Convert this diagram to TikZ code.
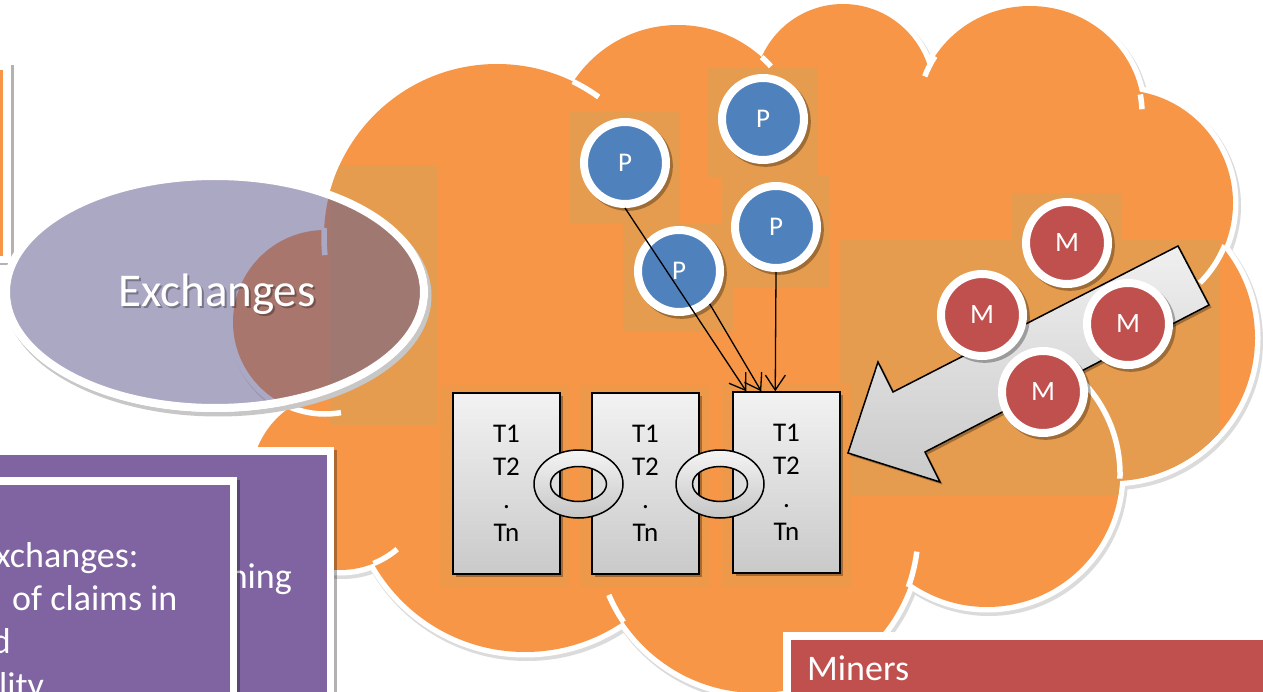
\documentclass[tikz,border=0pt]{standalone}
\usepackage{fontspec}
\setmainfont{Carlito}
\usetikzlibrary{arrows.meta,shadows,calc}

\definecolor{cloudorange}{HTML}{F79646}
\definecolor{patchorange}{HTML}{E59C4E}
\definecolor{blockpatch}{HTML}{EE9949}
\definecolor{exviolet}{RGB}{98,91,145}
\definecolor{boxpurple}{HTML}{8064A2}
\definecolor{peerblue}{HTML}{4F81BD}
\definecolor{minerred}{HTML}{C0504D}

% lobes of the cloud: centre x / centre y / radius
\def\cloudlobes{497/237/173, 678/150/125, 843/93/89, 1120/203/113, 1112/338/143,
  987/474/133, 757/532/161, 525/478/174, 340/481/89, 325/322/92}

\begin{document}
\begin{tikzpicture}[x=1pt, y=-1pt,
  softshadow/.style={drop shadow={shadow xshift=2.5pt, shadow yshift=-2.5pt, opacity=0.3, fill=black}},
  lobetick/.style={white, line width=5.5},
  blockbox/.style={draw=black, line width=1.5, top color=gray!10, bottom color=gray!42,
    minimum width=107, minimum height=181, inner sep=0, align=center,
    font=\fontsize{27}{33}\selectfont, softshadow},
  linkring/.style={draw=black, line width=1.5, even odd rule, top color=gray!8, bottom color=gray!45},
  peer/.style={circle, fill=peerblue, draw=white, line width=8, minimum size=82, inner sep=0,
    text=white, font=\fontsize{27}{27}\selectfont,
    drop shadow={shadow xshift=2.5pt, shadow yshift=-2.5pt, shadow scale=1.1, opacity=0.3, fill=black}},
  miner/.style={peer, fill=minerred, font=\fontsize{28}{28}\selectfont},
  txarrow/.style={-{Straight Barb[length=15pt, width=20pt, line width=1.3pt]}, line width=1.3},
  bigarrow/.style={draw=black, line width=1.5, top color=gray!12, bottom color=gray!42, softshadow},
  boxtext/.style={text=white, font=\fontsize{36}{43}\selectfont, inner sep=0}
]
\useasboundingbox (0,0) rectangle (1263,692);
\fill[white] (0,0) rectangle (1263,692);

% ---- small orange box at the left edge ----
\fill[white, softshadow] (-30,63) rectangle (11,263);
\fill[cloudorange] (-30,70) rectangle (3,256);

% ---- the cloud ----
\foreach \cx/\cy/\r in \cloudlobes
  \fill[black!14] (\cx+2,\cy+3) circle[radius=\r+6];
\fill[black!14] (1032,116) ellipse[x radius=118, y radius=113];

\foreach \cx/\cy/\r in \cloudlobes
  \draw[white, line width=11] (\cx,\cy) circle[radius=\r];
\draw[white, line width=11] (1030,113) ellipse[x radius=112, y radius=107];

\foreach \cx/\cy/\r in \cloudlobes
  \fill[cloudorange] (\cx,\cy) circle[radius=\r];
\fill[cloudorange] (1030,113) ellipse[x radius=112, y radius=107];
\fill[cloudorange] (497,237) -- (678,150) -- (843,93) -- (1030,113) -- (1120,203)
  -- (1112,338) -- (987,474) -- (757,532) -- (525,478) -- (340,481) -- (325,322) -- cycle;

% picture backgrounds inside the cloud, kept within its outline
\begin{scope}
  \clip (497,237) circle[radius=173] (678,150) circle[radius=125] (843,93) circle[radius=89]
        (1120,203) circle[radius=113] (1112,338) circle[radius=143] (987,474) circle[radius=133]
        (757,532) circle[radius=161] (525,478) circle[radius=174] (340,481) circle[radius=89]
        (325,322) circle[radius=92] (1030,113) ellipse[x radius=112, y radius=107]
        (497,237) -- (678,150) -- (843,93) -- (1030,113) -- (1120,203) -- (1112,338)
        -- (987,474) -- (757,532) -- (525,478) -- (340,481) -- (325,322) -- cycle;
  \fill[patchorange] (330,165) rectangle (437,425);
  \fill[patchorange] (570,112) rectangle (680,223);
  \fill[patchorange] (708,67) rectangle (818,178);
  \fill[patchorange] (722,175) rectangle (830,288);
  \fill[patchorange] (623,223) rectangle (733,332);
  \fill[patchorange] (1012,193) rectangle (1122,303);
  \fill[patchorange] (840,240) rectangle (1220,495);
  \fill[blockpatch] (440,385) rectangle (570,588);
  \fill[blockpatch] (580,385) rectangle (710,588);
  \fill[blockpatch] (722,383) rectangle (852,588);
\end{scope}

% seams where one lobe runs into the next
\draw[lobetick] (497,237) ++(-64:173) arc[start angle=-64, end angle=-54, radius=173];
\draw[lobetick] (678,150) ++(-48:125) arc[start angle=-48, end angle=-42, radius=125];
\draw[lobetick] (1030,113) ++(212:112 and 107) arc[start angle=212, end angle=200, x radius=112, y radius=107];
\draw[lobetick] (1030,113) ++(-10:112 and 107) arc[start angle=-10, end angle=-2, x radius=112, y radius=107];
\draw[lobetick] (1120,203) ++(22:113) arc[start angle=22, end angle=45, radius=113];
\draw[lobetick] (987,474) ++(2:133) arc[start angle=2, end angle=-78, radius=133];
\draw[lobetick] (757,532) ++(20:161) arc[start angle=20, end angle=7, radius=161];
\draw[lobetick] (757,532) ++(146:161) arc[start angle=146, end angle=157, radius=161];
\draw[lobetick] (340,481) ++(68:89) arc[start angle=68, end angle=50, radius=89];
\draw[lobetick] (325,322) ++(112:92) arc[start angle=112, end angle=80, radius=92];
\draw[lobetick] (497,237) ++(183:173) arc[start angle=183, end angle=174, radius=173];

% ---- Exchanges ellipse ----
\begin{scope}[even odd rule]
  \clip (-50,-50) rectangle (1400,800) (215,292) ellipse[x radius=213, y radius=120];
  \draw[black!22, line width=7] (218,296) ellipse[x radius=210, y radius=117];
\end{scope}
\fill[exviolet, fill opacity=0.53] (215,292) ellipse[x radius=209, y radius=116];
\draw[white, line width=8] (215,292) ellipse[x radius=209, y radius=116];
\node[anchor=base, font=\fontsize{47}{47}\selectfont, text=black, text opacity=0.3, inner sep=0]
  at (219,309) {Exchanges};
\node[anchor=base, font=\fontsize{47}{47}\selectfont, text=white, inner sep=0]
  (exlabel) at (217,307) {Exchanges};

% ---- chain of blocks ----
\node[blockbox] (b1) at (506.5,483.5) {T1\\T2\\.\\Tn};
\node[blockbox] (b2) at (645.5,483.5) {T1\\T2\\.\\Tn};
\node[blockbox] (b3) at (786.5,482.5) {T1\\T2\\.\\Tn};

\path[linkring] (578.5,484) ellipse[x radius=44.5, y radius=34]
                (578.5,484) ellipse[x radius=28, y radius=17.5];
\path[linkring] (720,484) ellipse[x radius=44, y radius=34]
                (720,484) ellipse[x radius=27.5, y radius=17.5];

% ---- peers ----
\node[peer] (p1) at (625,163) {P};
\node[peer] (p2) at (763,119) {P};
\node[peer] (p3) at (776,227) {P};
\node[peer] (p4) at (679,271) {P};

\draw[txarrow] (p1.south) -- ([xshift=14pt]b3.north west);
\draw[txarrow] (p4.-47) -- ([xshift=29pt]b3.north west);
\draw[txarrow] (p3.south) -- ([xshift=43pt]b3.north west);

% ---- miners pushing a block in ----
\draw[bigarrow] (1178,246) -- (1209,305) -- (925,452) -- (940,482) -- (848,453)
  -- (878,362) -- (893,392) -- cycle;

\node[miner] (m1) at (1067,243) {M};
\node[miner] (m2) at (982,315) {M};
\node[miner] (m3) at (1128,324) {M};
\node[miner] (m4) at (1043,392) {M};

% ---- purple text boxes ----
\fill[white, softshadow] (-30,447) rectangle (334,720);
\fill[boxpurple] (-30,455) rectangle (327,720);
\node[boxtext, anchor=base east] (backtext) at (292,588) {ning};

\fill[white, softshadow] (-30,477) rectangle (237,720);
\fill[boxpurple] (-30,485) rectangle (230,720);
\node[boxtext, anchor=base west] (ln1) at (-5,567) {xchanges:};
\node[boxtext, anchor=base west] (ln2) at (12,610) {of claims in};
\node[boxtext, anchor=base east] (ln3) at (11,653) {d};
\node[boxtext, anchor=base west] (ln4) at (-1,697) {lity};

% ---- Miners box ----
\fill[white, softshadow] (783,632) rectangle (1300,720);
\fill[minerred] (791,640) rectangle (1300,720);
\node[boxtext, anchor=base west] (minerslabel) at (807,680) {Miners};
\end{tikzpicture}
\end{document}
